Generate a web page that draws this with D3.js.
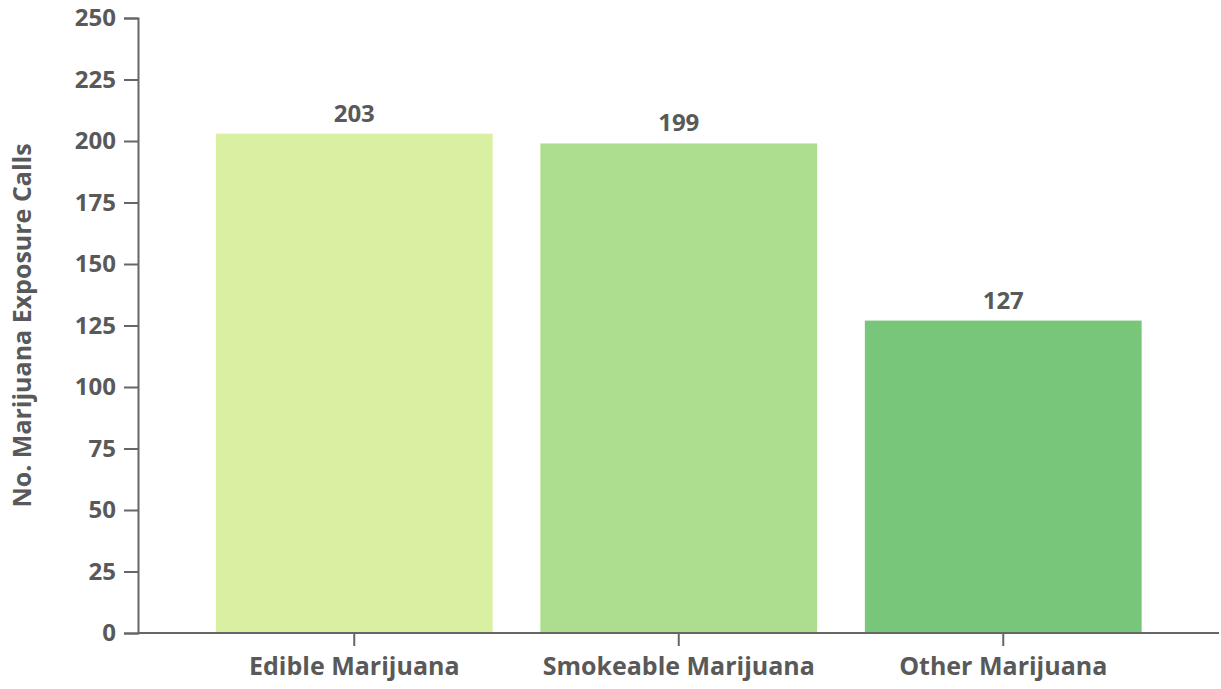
<!DOCTYPE html>
<html lang="en">
<head>
  <meta charset="UTF-8">
  <title>Marijuana Exposure Calls</title>
  <script src="https://cdn.jsdelivr.net/npm/d3@7.6.1/dist/d3.min.js"></script>
  <style>
    body { margin: 0; background: #fff; }
    svg { display: block; }
    text { font-family: "Open Sans", "DejaVu Sans", sans-serif; font-weight: 700; fill: #595959; }
  </style>
</head>
<body>
  <div id="chart"></div>
  <script>
    const categories = ['Edible Marijuana', 'Smokeable Marijuana', 'Other Marijuana']
    const values = [203, 199, 127]
    const colors = ['#d9f0a3', '#addd8e', '#78c679']
    const yTicks = [0, 25, 50, 75, 100, 125, 150, 175, 200, 225, 250]

    const width = 1221
    const height = 689
    const axisColor = '#666'
    const fs = 24

    const svg = d3.select('#chart').append('svg')
      .attr('width', width)
      .attr('height', height)

    const x = d3.scaleBand().domain(categories).range([192, 1165.5])
      .paddingInner(0.147).paddingOuter(0.0735)
    const y = d3.scaleLinear().domain([0, 250]).range([633, 18])

    // bars
    svg.selectAll('rect.bar').data(values)
      .enter().append('rect')
      .attr('class', 'bar')
      .attr('x', (d, i) => x(categories[i]))
      .attr('y', d => y(d))
      .attr('width', x.bandwidth())
      .attr('height', d => y(0) - y(d))
      .attr('fill', (d, i) => colors[i])

    // value labels
    svg.selectAll('text.val').data(values)
      .enter().append('text')
      .attr('class', 'val')
      .attr('x', (d, i) => x(categories[i]) + x.bandwidth() / 2)
      .attr('y', d => y(d) - 12)
      .attr('text-anchor', 'middle')
      .attr('font-size', fs)
      .text(d => d)

    // y axis
    const yAxis = svg.append('g')
      .attr('transform', 'translate(138,0)')
      .call(d3.axisLeft(y).tickValues(yTicks).tickSize(14).tickPadding(8))
    yAxis.select('.domain').attr('stroke', axisColor).attr('stroke-width', 2)
    yAxis.selectAll('.tick line').attr('stroke', axisColor).attr('stroke-width', 2)
    yAxis.selectAll('.tick text').attr('font-size', fs).attr('fill', '#595959')
      .style('font-family', '"Open Sans", sans-serif').style('font-weight', 700)

    // x axis
    const xAxis = svg.append('g')
      .attr('transform', 'translate(0,633)')
      .call(d3.axisBottom(x).tickSize(13).tickPadding(11).tickSizeOuter(0))
    xAxis.select('.domain').attr('d', 'M138,0H1219').attr('stroke', axisColor).attr('stroke-width', 2)
    xAxis.selectAll('.tick line').attr('stroke', axisColor).attr('stroke-width', 2)
    xAxis.selectAll('.tick text').attr('font-size', fs + 1).attr('fill', '#595959')
      .style('font-family', '"Open Sans", sans-serif').style('font-weight', 700)

    // y title
    svg.append('text')
      .attr('transform', `translate(31,${(y(0) + y(250)) / 2}) rotate(-90)`)
      .attr('text-anchor', 'middle')
      .attr('font-size', fs + 1)
      .text('No. Marijuana Exposure Calls')
  </script>
</body>
</html>
